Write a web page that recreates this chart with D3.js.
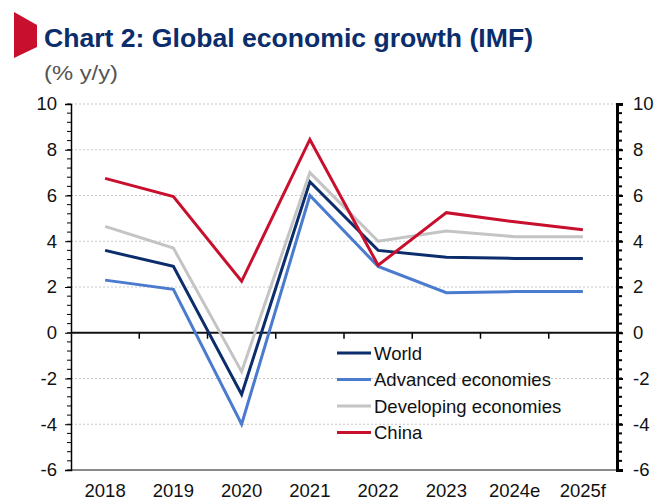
<!DOCTYPE html>
<html>
<head>
<meta charset="utf-8">
<script src="https://cdn.jsdelivr.net/npm/d3@7"></script>
<style>
  body { margin: 0; background: #fff; }
  text { font-family: "Liberation Sans", Arial, sans-serif; }
</style>
</head>
<body>
<script>
// data
var years = ["2018", "2019", "2020", "2021", "2022", "2023", "2024e", "2025f"];
var world = [3.6, 2.9, -2.7, 6.6, 3.6, 3.3, 3.25, 3.25];
var advanced = [2.3, 1.9, -4.0, 6.0, 2.9, 1.75, 1.8, 1.8];
var developing = [4.65, 3.7, -1.7, 7.0, 4.0, 4.45, 4.2, 4.2];
var china = [6.75, 5.95, 2.25, 8.45, 2.95, 5.25, 4.85, 4.5];
var seriesNames = ["World", "Advanced economies", "Developing economies", "China"];
var yTicks = [-6, -4, -2, 0, 2, 4, 6, 8, 10];

var colors = ["#0b2d6b", "#4a7bcf", "#c4c4c4", "#c8102e"];
var series = [world, advanced, developing, china];

var width = 667, height = 502;
var plotL = 71, plotR = 617, plotT = 104, plotB = 470;

var svg = d3.select("body").append("svg")
  .attr("width", width)
  .attr("height", height);

// title block
svg.append("polygon")
  .attr("points", "14,12 37,25 37,47 14,58")
  .attr("fill", "#c8102e");

svg.append("text")
  .attr("x", 44).attr("y", 47)
  .attr("font-size", 26)
  .attr("font-weight", "bold")
  .attr("fill", "#0b2d6b")
  .attr("textLength", 489)
  .attr("lengthAdjust", "spacingAndGlyphs")
  .text("Chart 2: Global economic growth (IMF)");

svg.append("text")
  .attr("x", 44).attr("y", 80)
  .attr("font-size", 20)
  .attr("fill", "#555")
  .attr("textLength", 74)
  .attr("lengthAdjust", "spacingAndGlyphs")
  .text("(% y/y)");

var x = d3.scaleBand().domain(years).range([plotL, plotR]);
var y = d3.scaleLinear().domain([-6, 10]).range([plotB, plotT]);

// dotted grid
svg.selectAll(".grid")
  .data(yTicks.filter(function(d) { return d != 0 && d != -6; }))
  .enter()
  .append("line")
  .attr("x1", plotL).attr("x2", plotR)
  .attr("y1", function(d) { return y(d); })
  .attr("y2", function(d) { return y(d); })
  .attr("stroke", "#c8c8c8")
  .attr("stroke-width", 1)
  .attr("stroke-dasharray", "2,2");

// bottom line
svg.append("line")
  .attr("x1", plotL).attr("x2", plotR)
  .attr("y1", y(-6)).attr("y2", y(-6))
  .attr("stroke", "#8a8a8a")
  .attr("stroke-width", 2);

// minor ticks
var minor = d3.range(-6, 10.01, 0.4);

var yLeft = d3.axisLeft(y).tickValues(yTicks).tickSize(6).tickPadding(8).tickFormat(String);
var gl = svg.append("g")
  .attr("transform", "translate(" + plotL + ",0)")
  .call(yLeft);
gl.selectAll(".minor").data(minor).enter().append("line")
  .attr("x1", -4).attr("x2", 0)
  .attr("y1", function(d) { return y(d); })
  .attr("y2", function(d) { return y(d); })
  .attr("stroke", "#000");

var yRight = d3.axisRight(y).tickValues(yTicks).tickSize(6).tickPadding(10).tickFormat(String);
var gr = svg.append("g")
  .attr("transform", "translate(" + plotR + ",0)")
  .call(yRight);
gr.selectAll(".minor").data(minor).enter().append("line")
  .attr("x1", 0).attr("x2", 5)
  .attr("y1", function(d) { return y(d); })
  .attr("y2", function(d) { return y(d); })
  .attr("stroke", "#000")
  .attr("stroke-width", 2);

[gl, gr].forEach(function(g) {
  g.select(".domain").attr("stroke", "#000");
  g.selectAll("text").attr("font-size", 18.5).attr("fill", "#111")
    .attr("font-family", "Liberation Sans, Arial, sans-serif");
});
gl.select(".domain").attr("stroke-width", 1.5);
gr.select(".domain").attr("stroke-width", 3);
gr.selectAll(".tick line").attr("stroke-width", 2);

// zero line with category ticks
svg.selectAll(".xtick")
  .data(years)
  .enter()
  .append("line")
  .attr("x1", function(d) { return x(d) + x.bandwidth(); })
  .attr("x2", function(d) { return x(d) + x.bandwidth(); })
  .attr("y1", y(0)).attr("y2", y(0) + 6)
  .attr("stroke", "#000")
  .attr("stroke-width", 1.5);

svg.append("line")
  .attr("x1", plotL).attr("x2", plotR)
  .attr("y1", y(0)).attr("y2", y(0))
  .attr("stroke", "#111")
  .attr("stroke-width", 2);

// year labels
svg.selectAll(".xlabel")
  .data(years)
  .enter()
  .append("text")
  .attr("x", function(d) { return x(d) + x.bandwidth() / 2; })
  .attr("y", 497)
  .attr("text-anchor", "middle")
  .attr("font-size", 18.5)
  .attr("fill", "#111")
  .text(function(d) { return d; });

// lines
var line = d3.line()
  .x(function(d, i) { return x(years[i]) + x.bandwidth() / 2; })
  .y(function(d) { return y(d); });

series.forEach(function(s, i) {
  svg.append("path")
    .datum(s)
    .attr("d", line)
    .attr("fill", "none")
    .attr("stroke", colors[i])
    .attr("stroke-width", 3);
});

// legend
var legend = svg.selectAll(".legend")
  .data(seriesNames)
  .enter()
  .append("g")
  .attr("transform", function(d, i) { return "translate(337," + (353 + i * 26.5) + ")"; });

legend.append("line")
  .attr("x1", 0).attr("x2", 34)
  .attr("stroke", function(d, i) { return colors[i]; })
  .attr("stroke-width", 3);

legend.append("text")
  .attr("x", 37).attr("y", 6.5)
  .attr("font-size", 18.5)
  .attr("fill", "#111")
  .text(function(d) { return d; });
</script>
</body>
</html>
